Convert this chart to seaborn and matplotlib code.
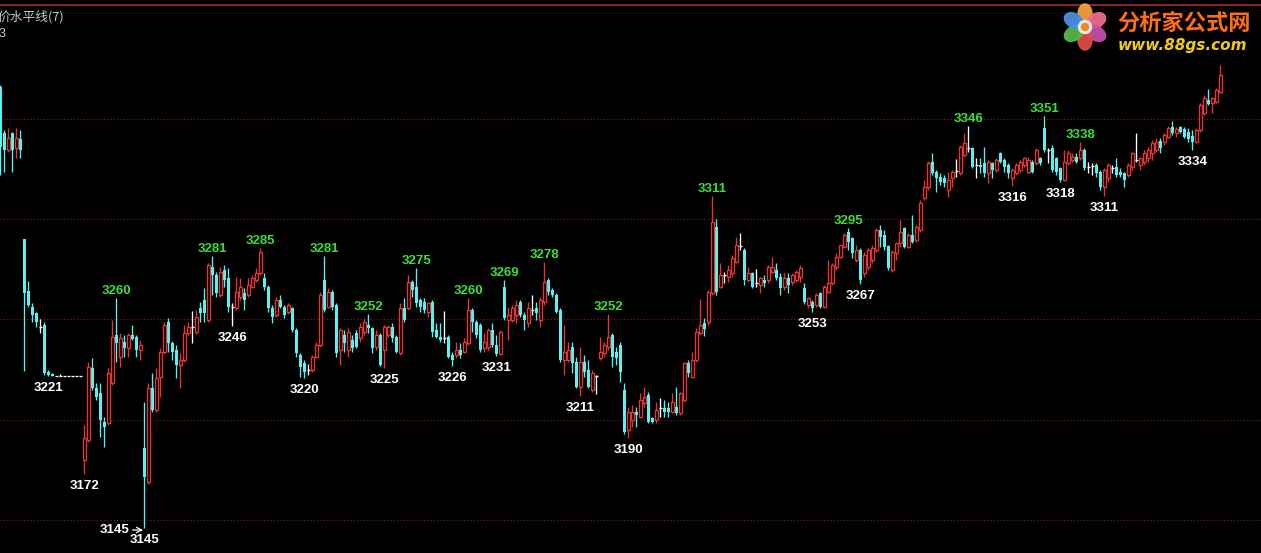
import numpy as np
import pandas as pd
import seaborn as sns
import matplotlib.pyplot as plt
from matplotlib.patches import Ellipse, Circle

# OHLC, one candle per bar (index 0 = leftmost, partly cut)
opens = [
    3365.5, 3342.5, 3334, 3342.5, 3335, 3339.5, 3289.5, 3263.5, 3255.5, 3252.5,
    3245.5, 3246.5, 3223, 3222, 3221, 3221, 3221, 3221, 3221, 3221,
    3221, 3179, 3189, 3225, 3215, 3212.5, 3198, 3197.5, 3217.5, 3241.5,
    3230.5, 3238, 3235, 3241.5, 3240.5, 3234, 3185, 3168, 3215, 3204,
    3220.5, 3233, 3248, 3237.5, 3234, 3226.5, 3229, 3242.5, 3245.5, 3243,
    3255, 3259, 3249, 3275.5, 3271.5, 3261.5, 3274, 3270, 3255.5, 3255,
    3260.5, 3262.5, 3261.5, 3265.5, 3269, 3272.5, 3270, 3265.5, 3255, 3251.5,
    3259, 3255.5, 3253, 3255, 3244, 3231.5, 3227.5, 3224, 3224, 3230.5,
    3236.5, 3269, 3255.5, 3263, 3256.5, 3234, 3241.5, 3234, 3239, 3242.5,
    3240, 3243, 3246.5, 3245, 3235.5, 3241.5, 3234, 3241.5, 3245.5, 3240.5,
    3232.5, 3255, 3255, 3268, 3265.5, 3259, 3258, 3253, 3258, 3244,
    3240.5, 3240, 3240.5, 3231.5, 3231.5, 3234, 3233, 3237.5, 3254, 3248,
    3246.5, 3235, 3235.5, 3244, 3236.5, 3232, 3265.5, 3249, 3249, 3251.5,
    3258, 3251.5, 3247.5, 3254, 3255, 3249, 3258, 3269, 3264, 3261.5,
    3254, 3229, 3229, 3235.5, 3228, 3215.5, 3228, 3224, 3214, 3221,
    3230, 3232.5, 3235.5, 3241.5, 3233, 3236.5, 3214, 3194, 3199, 3203,
    3200.5, 3207.5, 3211.5, 3200, 3199, 3205, 3205, 3205, 3203, 3205.5,
    3202.5, 3209, 3227.5, 3220.5, 3229, 3242.5, 3247.5, 3248, 3262.5, 3295.5,
    3265.5, 3271.5, 3270.5, 3272.5, 3278, 3286, 3284, 3269, 3272.5, 3267.5,
    3266.5, 3269, 3269, 3273, 3274, 3270.5, 3265.5, 3270, 3268, 3269,
    3270.5, 3265, 3256.5, 3258, 3256.5, 3262.5, 3255.5, 3263, 3267.5, 3275.5,
    3280.5, 3285.5, 3293, 3290, 3279, 3284, 3272.5, 3275.5, 3279, 3284,
    3294, 3291.5, 3286, 3274, 3282.5, 3287.5, 3295, 3285.5, 3291.5, 3289,
    3294, 3310, 3315.5, 3328, 3323, 3320.5, 3320, 3314, 3320, 3323.5,
    3322.5, 3331.5, 3335, 3335, 3326.5, 3326.5, 3327.5, 3322.5, 3327.5, 3324,
    3332.5, 3329, 3326.5, 3320, 3322.5, 3324, 3326.5, 3323, 3328, 3327.5,
    3330, 3345, 3334, 3335, 3330, 3325, 3319, 3327.5, 3329, 3330.5,
    3330, 3334, 3325.5, 3326, 3326.5, 3323, 3315.5, 3320, 3325, 3325.5,
    3323, 3322.5, 3321.5, 3325.5, 3329, 3326.5, 3328, 3330, 3332.5, 3334,
    3338.5, 3338, 3340.5, 3345.5, 3342.5, 3345.5, 3344.5, 3343, 3341, 3338,
    3344, 3352.5, 3359, 3357.5, 3358, 3363,
]
highs = [
    3366.5, 3344, 3345, 3343, 3345, 3344, 3289.5, 3268.5, 3257.5, 3253,
    3249.5, 3248, 3224, 3222.5, 3221, 3222, 3221, 3221, 3221, 3221,
    3221, 3196.5, 3228, 3230, 3217.5, 3217.5, 3200.5, 3225, 3249, 3260,
    3242.5, 3241.5, 3242.5, 3246.5, 3241.5, 3239, 3208, 3217.5, 3222.5, 3225,
    3235, 3248, 3250, 3238.5, 3236.5, 3232.5, 3246.5, 3248, 3253.5, 3254,
    3258, 3265, 3277.5, 3281, 3273, 3275.5, 3276.5, 3275, 3257.5, 3270.5,
    3270, 3265, 3270, 3271.5, 3275, 3285, 3272.5, 3266.5, 3256.5, 3260.5,
    3261.5, 3256.5, 3257.5, 3255.5, 3245, 3232.5, 3229, 3227, 3231.5, 3238,
    3263, 3281, 3265, 3264, 3257.5, 3245, 3244, 3245, 3241.5, 3244,
    3247.5, 3250, 3252, 3245.5, 3244, 3242.5, 3246.5, 3246.5, 3247.5, 3241.5,
    3257.5, 3260, 3271.5, 3269, 3275, 3260, 3260, 3258, 3259, 3247.5,
    3247.5, 3253.5, 3241.5, 3233, 3238, 3237.5, 3240, 3260, 3255, 3249,
    3247.5, 3242.5, 3245, 3247.5, 3241.5, 3244, 3269, 3255.5, 3256.5, 3259,
    3259, 3253, 3258, 3261.5, 3258, 3260.5, 3278, 3270, 3265, 3262.5,
    3255, 3246.5, 3238, 3238, 3230.5, 3235.5, 3231.5, 3229, 3224, 3221.5,
    3240.5, 3238, 3252, 3242.5, 3235.5, 3238, 3217.5, 3205.5, 3206.5, 3205.5,
    3212.5, 3215.5, 3213, 3200.5, 3208, 3210, 3209, 3208, 3212.5, 3215.5,
    3213, 3228, 3229, 3233, 3245, 3259.5, 3250, 3264, 3311, 3299.5,
    3277.5, 3273, 3276.5, 3281.5, 3290.5, 3292.5, 3285, 3275.5, 3273, 3274.5,
    3270.5, 3271.5, 3276.5, 3280.5, 3277.5, 3272.5, 3272.5, 3272.5, 3272.5, 3274,
    3276.5, 3267.5, 3260.5, 3259, 3262.5, 3263, 3266.5, 3279, 3277.5, 3282.5,
    3286.5, 3292.5, 3295, 3290.5, 3286.5, 3285, 3283, 3285, 3286.5, 3295,
    3296.5, 3294, 3286.5, 3284, 3288, 3299, 3295.5, 3292.5, 3301.5, 3296.5,
    3309, 3319, 3328.5, 3332.5, 3324, 3322.5, 3321.5, 3323, 3324, 3329.5,
    3336.5, 3342.5, 3346, 3335.5, 3330, 3330, 3335.5, 3329, 3328, 3330,
    3333, 3330, 3327.5, 3325, 3327.5, 3329, 3330.5, 3330.5, 3329, 3335,
    3330.5, 3351, 3335, 3336.5, 3330.5, 3325.5, 3334, 3334, 3332.5, 3332.5,
    3338, 3335, 3328, 3327.5, 3327.5, 3324, 3325, 3327.5, 3326.5, 3330,
    3325, 3323, 3327.5, 3333, 3342.5, 3330.5, 3334, 3335.5, 3339, 3340,
    3340, 3342.5, 3346, 3348.5, 3345.5, 3346, 3345.5, 3345, 3344, 3345,
    3357.5, 3361.5, 3364.5, 3360.5, 3365, 3376.5,
]
lows = [
    3321.5, 3323, 3333, 3323, 3330, 3330, 3223.5, 3255.5, 3248, 3245.5,
    3242.5, 3221.5, 3221, 3221, 3221, 3221, 3221, 3221, 3221, 3221,
    3221, 3172, 3188, 3214, 3209, 3190.5, 3185.5, 3196.5, 3216.5, 3228,
    3225.5, 3230.5, 3230.5, 3239, 3230.5, 3229, 3145, 3167, 3203, 3203,
    3210.5, 3232, 3233, 3229, 3220, 3215, 3228, 3241.5, 3237.5, 3242,
    3248, 3248, 3248, 3261.5, 3260.5, 3260.5, 3265.5, 3253, 3246, 3254,
    3259, 3254, 3260.5, 3265, 3268, 3271.5, 3264, 3253, 3247.5, 3250.5,
    3255, 3250, 3252, 3243, 3230.5, 3220.5, 3220, 3221.5, 3223, 3230,
    3235.5, 3253, 3255, 3254, 3230.5, 3226.5, 3233, 3230.5, 3233, 3235,
    3238, 3241.5, 3242.5, 3232.5, 3234, 3226, 3225, 3240.5, 3238, 3232.5,
    3231.5, 3248, 3254, 3260.5, 3255.5, 3253, 3252.5, 3250.5, 3240.5, 3240,
    3238, 3237.5, 3230, 3226, 3230, 3230, 3232.5, 3236.5, 3243, 3240,
    3233, 3233, 3234, 3235.5, 3231, 3231.5, 3249, 3239, 3248, 3247.5,
    3250.5, 3244, 3245.5, 3251.5, 3249, 3245.5, 3256.5, 3261.5, 3260.5, 3252.5,
    3228, 3221.5, 3228, 3222.5, 3215, 3211, 3220.5, 3215, 3213, 3212,
    3229, 3230.5, 3234, 3225.5, 3226.5, 3218, 3192, 3190, 3195.5, 3195.5,
    3200, 3205.5, 3197.5, 3197.5, 3197.5, 3200.5, 3200.5, 3200.5, 3202.5, 3201.5,
    3201.5, 3208, 3220.5, 3220, 3228, 3241.5, 3241, 3246.5, 3261.5, 3261.5,
    3265, 3267.5, 3268, 3270.5, 3277.5, 3284, 3266.5, 3268, 3265, 3265.5,
    3262.5, 3265.5, 3267.5, 3272.5, 3269, 3261.5, 3264, 3262.5, 3266.5, 3268,
    3268, 3257, 3255, 3253, 3255.5, 3255, 3255, 3262.5, 3266.5, 3274,
    3280, 3285, 3284, 3280, 3278, 3267, 3270.5, 3274, 3277.5, 3283,
    3285.5, 3284, 3274, 3273, 3279, 3285.5, 3285, 3285, 3287.5, 3288,
    3293, 3309, 3314, 3321.5, 3313, 3316.5, 3315.5, 3310.5, 3315.5, 3320.5,
    3321.5, 3330.5, 3333, 3325, 3320, 3322.5, 3320.5, 3317.5, 3320, 3323,
    3327.5, 3323, 3320, 3316, 3321.5, 3323, 3325.5, 3322.5, 3322.5, 3326.5,
    3326.5, 3333, 3327.5, 3323, 3321.5, 3318, 3318.5, 3326.5, 3328, 3327.5,
    3329, 3324, 3322.5, 3321.5, 3320.5, 3314, 3311, 3318, 3322.5, 3320.5,
    3320.5, 3315.5, 3320.5, 3324, 3328, 3324, 3326.5, 3328, 3329, 3333,
    3332.5, 3336.5, 3340, 3341.5, 3340.5, 3342.5, 3340, 3338, 3334, 3337.5,
    3343, 3351.5, 3356.5, 3352.5, 3357.5, 3362.5,
]
closes = [
    3335.5, 3334, 3340, 3334, 3340, 3334, 3262.5, 3256.5, 3251.5, 3248,
    3245.5, 3222.5, 3221.5, 3221, 3221, 3221, 3221, 3221, 3221, 3221,
    3221, 3190, 3225.5, 3215, 3210.5, 3199, 3195.5, 3222.5, 3240.5, 3237.5,
    3240, 3235, 3241.5, 3239.5, 3234, 3236.5, 3170.5, 3215, 3204, 3220,
    3233, 3246.5, 3237.5, 3233, 3226.5, 3229, 3242.5, 3245.5, 3245.5, 3250.5,
    3252.5, 3252.5, 3276.5, 3271.5, 3262.5, 3273, 3269, 3255.5, 3255.5, 3263,
    3265.5, 3259, 3266.5, 3270, 3272.5, 3283, 3265.5, 3255, 3250.5, 3259,
    3255.5, 3251.5, 3256.5, 3244, 3232.5, 3225.5, 3223, 3224, 3230.5, 3236.5,
    3261.5, 3254, 3263, 3255.5, 3232.5, 3244, 3237.5, 3243, 3235, 3235.5,
    3245.5, 3248, 3245, 3235, 3241.5, 3226.5, 3245.5, 3245.5, 3240, 3233,
    3255, 3249, 3268, 3264, 3257.5, 3255.5, 3254, 3257.5, 3243, 3240.5,
    3239, 3240, 3230.5, 3229, 3234, 3231.5, 3238, 3254, 3248, 3241.5,
    3234, 3238, 3244, 3236.5, 3232, 3243, 3250, 3251.5, 3255, 3256.5,
    3251.5, 3249, 3255, 3254, 3252.5, 3259, 3268, 3263, 3261.5, 3253,
    3229, 3233, 3234, 3227.5, 3215.5, 3228, 3223, 3215.5, 3222.5, 3221,
    3233, 3236.5, 3240.5, 3230.5, 3230, 3223, 3193, 3203, 3203, 3201.5,
    3209, 3210.5, 3198, 3198, 3204, 3205, 3203, 3203, 3208, 3202.5,
    3212.5, 3227.5, 3222.5, 3229, 3243, 3246.5, 3244.5, 3263, 3298, 3263,
    3271.5, 3271.5, 3274, 3280, 3286.5, 3286, 3269, 3272.5, 3265.5, 3267.5,
    3270, 3267.5, 3275.5, 3275.5, 3270, 3265, 3270, 3266.5, 3271.5, 3273,
    3275, 3258, 3260, 3255, 3261.5, 3255.5, 3265.5, 3267.5, 3276.5, 3280.5,
    3286.5, 3291.5, 3288, 3282.5, 3284, 3269, 3281.5, 3284, 3285, 3294,
    3290.5, 3285.5, 3275, 3283, 3287.5, 3293, 3285.5, 3291.5, 3288, 3295.5,
    3307.5, 3315.5, 3327.5, 3322.5, 3320, 3318, 3317.5, 3319, 3323, 3323.5,
    3335.5, 3337.5, 3335, 3325.5, 3326.5, 3325.5, 3322.5, 3328, 3324, 3329,
    3328, 3325.5, 3322.5, 3324, 3326.5, 3328, 3330, 3329, 3323, 3334,
    3327.5, 3334, 3334, 3324, 3323, 3319, 3328, 3332.5, 3330.5, 3328,
    3334, 3325, 3325.5, 3326, 3322.5, 3315.5, 3324, 3326.5, 3325, 3321.5,
    3321.5, 3319, 3326.5, 3332.5, 3329, 3330, 3332.5, 3334, 3337.5, 3338,
    3335, 3341.5, 3345, 3342.5, 3344.5, 3343, 3340.5, 3339.5, 3338, 3344,
    3356.5, 3360, 3357, 3360, 3364, 3371.5,
]

# labelled swing points (candle index)
high_marks = [29, 53, 65, 81, 92, 104, 117, 126, 136, 152, 178, 212, 242, 261, 270]
low_marks = [12, 21, 36, 58, 76, 96, 113, 124, 145, 157, 203, 215, 253, 265, 276, 298]
arrow_mark = 36
grid_levels = [3149, 3199, 3249.5, 3299.5, 3349.5]

sns.set_theme(style='dark', rc={'axes.facecolor': 'black', 'figure.facecolor': 'black'})
plt.rcParams['font.family'] = ['Liberation Sans', 'Noto Sans CJK SC', 'DejaVu Sans']

CYAN = '#54f4f4'
RED = '#e83434'
GREEN = '#3fdc3f'

df = pd.DataFrame({'o': opens, 'h': highs, 'l': lows, 'c': closes})
df['x'] = np.arange(len(df))
up = df[df.c > df.o]
dn = df[df.c < df.o]
dj = df[df.c == df.o]

fig = plt.figure(figsize=(12.61, 5.53), dpi=100)
ax = fig.add_axes([0, 0, 1, 1])
ax.set_facecolor('black')
ax.set_xlim(-0.075, 315.175)
ax.set_ylim(3132.5, 3409)
ax.set_xticks([])
ax.set_yticks([])
for s in ax.spines.values():
    s.set_visible(False)

# grid and top border
for g in grid_levels:
    ax.axhline(g, color='#8a1c1c', lw=0.8, ls=(0, (1, 2)), zorder=0)
ax.axhline(3406.5, color='#9a2828', lw=1.3, zorder=0)

# down candles (filled cyan)
ax.vlines(dn.x, dn.l, dn.h, color=CYAN, lw=0.95)
ax.bar(dn.x, dn.o - dn.c, bottom=dn.c, width=0.78, color=CYAN, lw=0)

# up candles (hollow red)
ax.vlines(up.x, up.l, up.o, color=RED, lw=0.95)
ax.vlines(up.x, up.c, up.h, color=RED, lw=0.95)
ax.bar(up.x, up.c - up.o, bottom=up.o, width=0.66, facecolor='black',
       edgecolor=RED, lw=0.95)

# doji / flat bars
ax.vlines(dj.x, dj.l, dj.h, color='white', lw=0.95)
ax.hlines(dj.o, dj.x - 0.4, dj.x + 0.4, color='white', lw=0.95)

lab = dict(fontsize=9.5, fontweight='bold', ha='center', textcoords='offset points')
for i in high_marks:
    ax.annotate(f'{highs[i]:.0f}', (i, highs[i]), xytext=(0, 3), va='baseline',
                color=GREEN, **lab)
for i in low_marks:
    ax.annotate(f'{lows[i]:.0f}', (i, lows[i]), xytext=(0, -4.5), va='top',
                color='white', **lab)

# second price tag with arrow pointing at the lowest bar
ax.annotate(f'{lows[arrow_mark]:.0f}', (arrow_mark - 0.3, lows[arrow_mark] - 1),
            xytext=(-10, 0), textcoords='offset points', ha='right', va='center',
            color='white', fontsize=9.5, fontweight='bold',
            arrowprops=dict(arrowstyle='->', color='white', lw=0.9,
                            shrinkA=0, shrinkB=0))

# indicator title top-left
fig.text(-0.002, 1 - 21 / 553, '价水平线(7)', color='#c8c8c8', fontsize=9.2,
         family=['Noto Sans CJK SC', 'DejaVu Sans'])
fig.text(-0.001, 1 - 37 / 553, '3', color='#c8c8c8', fontsize=9)

# logo
lax = fig.add_axes([1058 / 1261, 1 - 52 / 553, 54 / 1261, 50 / 553])
lax.set_xlim(0, 54)
lax.set_ylim(0, 50)
lax.axis('off')
petal_colors = ['#f2a23a', '#f06a8c', '#c24fa8', '#e04a4a', '#55b848', '#4b8fe2']
for k, pc in enumerate(petal_colors):
    a = np.deg2rad(90 - 60 * k)
    lax.add_patch(Ellipse((27 + 13 * np.cos(a), 25 + 13 * np.sin(a)), 20, 14,
                          angle=np.rad2deg(a), color=pc, alpha=0.95))
lax.add_patch(Circle((27, 25), 6.5, color='#e8e8e8'))
lax.add_patch(Circle((27, 25), 3.5, color='#f08a20'))

fig.text(1117 / 1261, 1 - 30 / 553, '分析家公式网', color='#ff6e14', fontsize=16,
         fontweight='bold', family=['Noto Sans CJK SC', 'DejaVu Sans'])
fig.text(1118 / 1261, 1 - 50 / 553, 'www.88gs.com', color='#f2cc10', fontsize=11,
         fontweight='bold', style='italic', family=['DejaVu Sans'])

fig.savefig('out.png', dpi=100, facecolor='black')
